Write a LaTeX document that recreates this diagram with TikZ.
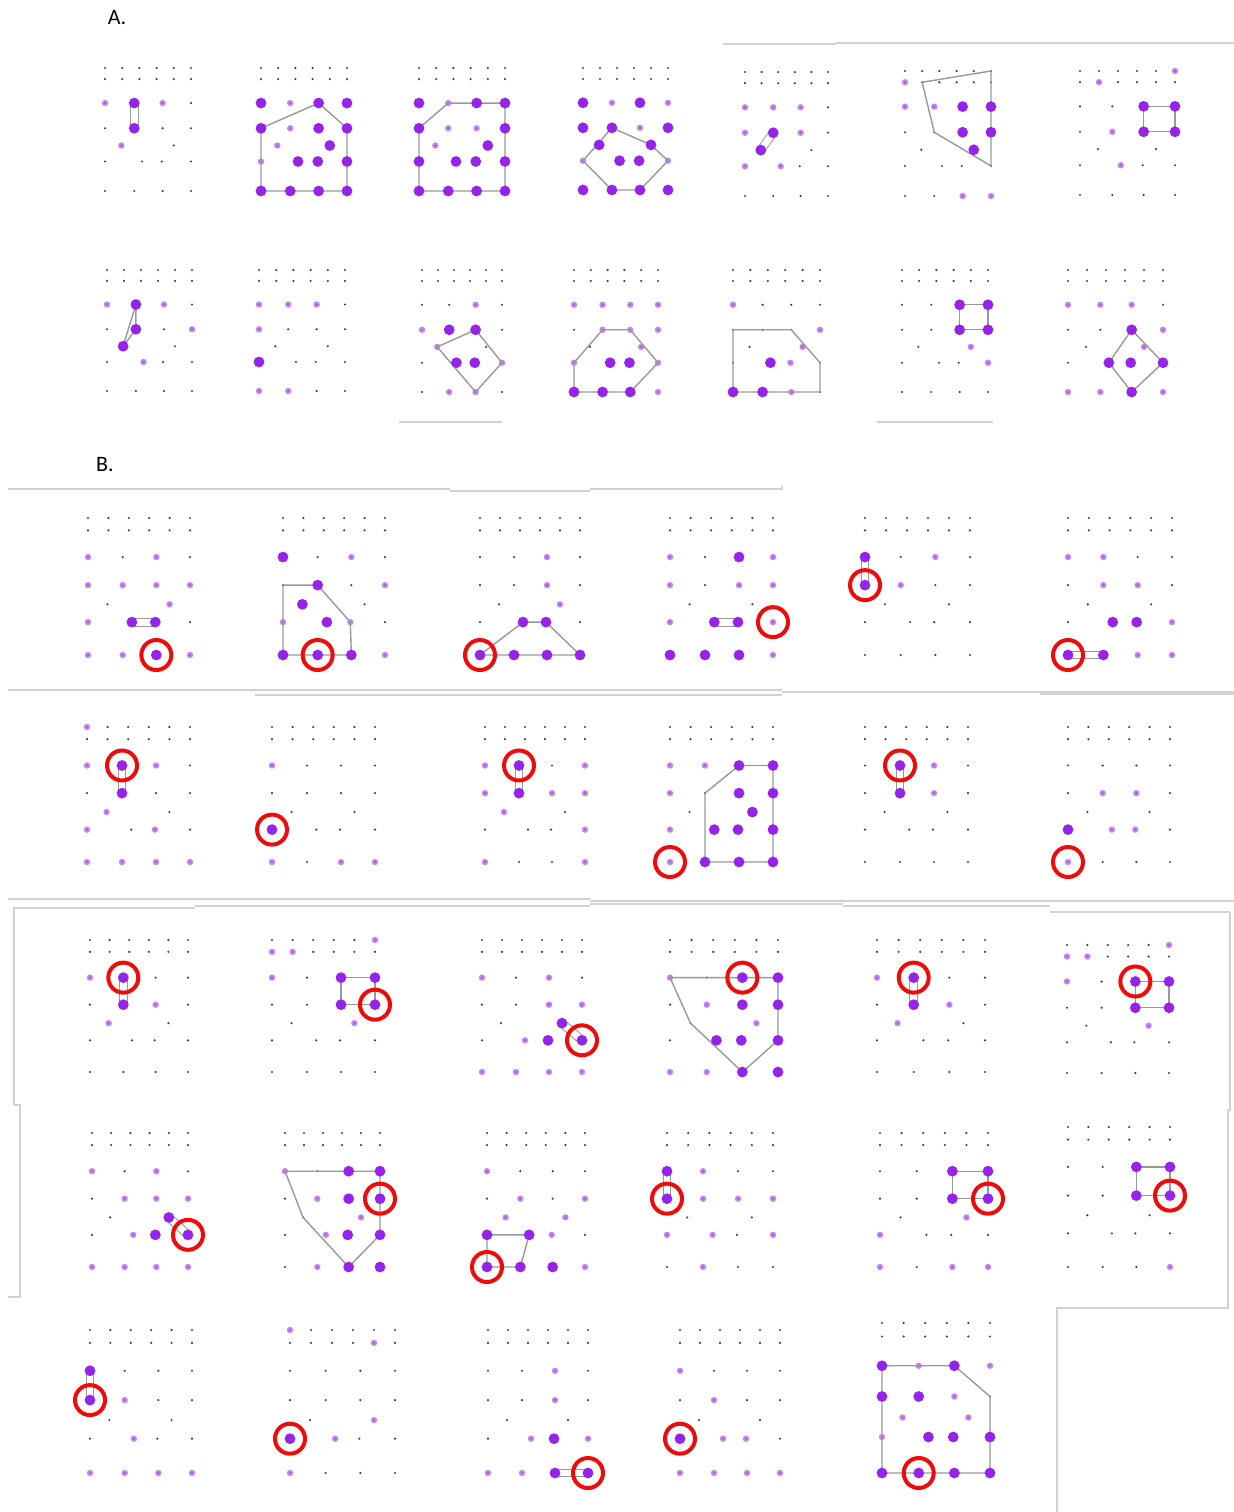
\documentclass[tikz,border=0pt]{standalone}
\usepackage{fontspec}
\setmainfont{Carlito}
\usepackage{tikz}
\usetikzlibrary{
  calc,
  positioning
}
\definecolor{dotpurple}{RGB}{150,35,235}
\definecolor{ringred}{RGB}{240,10,10}

% one panel: x, y, width, height, big dots, faint dots, outline path, ringed dot
\newcommand{\panel}[8]{%
  \begin{scope}[shift={(#1,#2)}, xscale=#3, yscale=#4]
    \foreach \n/\u in {1/0,2/0.2,3/0.4,4/0.6,5/0.8,6/1} {
      \coordinate (t\n) at (\u,0);
      \coordinate (s\n) at (\u,0.09);
    }
    \foreach \n/\u/\v in {a1/0/0.285,a2/0.34/0.285,a3/0.67/0.285,a4/1/0.285,
                          b1/0/0.49,b2/0.34/0.49,b3/0.67/0.49,b4/1/0.49,
                          m1/0.19/0.63,m2/0.80/0.63,
                          c1/0/0.76,c2/0.43/0.76,c3/0.66/0.76,c4/1/0.76,
                          d1/0/1,d2/0.34/1,d3/0.67/1,d4/1/1}
      \coordinate (\n) at (\u,\v);
  \end{scope}
  \foreach \n in {t1,t2,t3,t4,t5,t6,s1,s2,s3,s4,s5,s6,a1,a2,a3,a4,b1,b2,b3,b4,
                  m1,m2,c1,c2,c3,c4,d1,d2,d3,d4}
    \fill[griddot] (\n) circle (0.6pt);
  \foreach \n in {#6} \fill[faintdot] (\n) circle (1.6pt);
  \draw#7;
  \foreach \n in {#5} \fill[bigdot] (\n) circle (2.7pt);
  \if\relax\detokenize{#8}\relax\else\draw[ring] (#8) circle (7.5pt);\fi
}

\begin{document}
\begin{tikzpicture}[x=0.5pt, y=-0.5pt]
  \tikzset{
    griddot/.style={fill=black!75},
    faintdot/.style={fill=dotpurple!70, opacity=0.8},
    bigdot/.style={fill=dotpurple},
    hull/.style={draw=gray!80, line width=0.7pt, line join=round},
    capsule/.style={draw=gray!80, line width=0.5pt, double=white, double distance=3.4pt},
    ring/.style={draw=ringred, line width=2pt},
    frameline/.style={draw=gray!35, line width=0.6pt},
    lbl/.style={font=\fontsize{11}{13}\selectfont, inner sep=0pt}
  }
  \useasboundingbox (0,0) rectangle (1234,1512);

  % cut edges of the pasted images
  \draw[frameline] (723,44) -- (836,44) (836,43) -- (1234,43);
  \draw[frameline] (399,422) -- (502,422) (877,422) -- (993,422);
  \draw[frameline] (8,489) -- (450,489) (450,491) -- (590,491) (590,489) -- (782,489) -- (782,486);
  \draw[frameline] (8,690) -- (782,690) (782,692) -- (1234,692)
                   (255,695) -- (782,695) (1040,694) -- (1234,694);
  \draw[frameline] (8,899) -- (590,899) (590,901) -- (1234,901);
  \draw[frameline] (14,1105) -- (14,908) -- (195,908) (195,906) -- (590,906)
                   (590,904) -- (843,904) (843,906) -- (1050,906) (1050,912) -- (1230,912);
  \draw[frameline] (14,1105) -- (20,1105) -- (20,1297) -- (8,1297);
  \draw[frameline] (1230,912) -- (1230,1110) -- (1228,1110) -- (1228,1308) -- (1057,1308) -- (1057,1512);

  \node[lbl] (labA) at (117,18) {A.};
  \node[lbl] (labB) at (105,465) {B.};

  % A, first row
  \panel{105}{68}{86}{123}{a2,b2}{a1,a3,m1}{[capsule] (a2) -- (b2)}{}
  \panel{261}{68}{86}{123}{a1,a3,a4,b1,b3,b4,m2,c2,c3,c4,d1,d2,d3,d4}{a2,b2,m1,c1}
        {[hull] (b1) -- (a3) -- (b4) -- (d4) -- (d1) -- cycle}{}
  \panel{419}{68}{86}{123}{a1,a3,a4,b1,b4,m2,c1,c2,c3,c4,d1,d2,d3,d4}{a2,b2,b3,m1}
        {[hull] (b1) -- (a2) -- (a4) -- (d4) -- (d1) -- cycle}{}
  \panel{583}{68}{85}{122}{a1,a3,b1,b2,b4,m1,m2,c2,c3,d1,d2,d3,d4}{a2,a4,b3,c1,c4}
        {[hull] (c1) -- (b2) -- (m2) -- (c4) -- (d3) -- (d2) -- cycle}{}
  \panel{745}{72}{83}{124}{b2,m1}{a1,a2,a3,b1,b3,c1,c2}{[capsule] (b2) -- (m1)}{}
  \panel{905}{71}{86}{125}{a3,a4,b3,b4,m2}{s1,a1,a2,d3,d4}
        {[hull] (s2) -- (t6) -- (c4) -- (b2) -- cycle}{}
  \panel{1080}{71}{95}{124}{a3,a4,b3,b4}{t6,s2,b2,c2}
        {[hull] (a3) -- (a4) -- (b4) -- (b3) -- cycle}{}

  % A, second row
  \panel{107}{270}{85}{121}{a2,b2,m1}{a1,a3,b4,c2}{[hull] (a2) -- (b2) -- (m1) -- cycle}{}
  \panel{259}{270}{86}{121}{c1}{a1,a2,a3,b1,d1,d2}{}{}
  \panel{422}{270}{80}{122}{b2,b3,c2,c3}{b1,a3,m1,c4,d2,d3}
        {[hull] (b3) -- (c4) -- (d3) -- (m1) -- cycle}{}
  \panel{574}{270}{84}{122}{c2,c3,d1,d2,d3}{a1,a2,a3,a4,b2,b3,b4,m2,c1,c4,d4}
        {[hull] (b2) -- (b3) -- (c4) -- (d3) -- (d1) -- (c1) -- cycle}{}
  \panel{733}{270}{87}{122}{c2,d1,d2}{a1,b4,m2,c3,d3}
        {[hull] (b1) -- (b3) -- (c4) -- (d4) -- (d1) -- cycle}{}
  \panel{902}{270}{86}{122}{a3,a4,b3,b4}{m2,c4}
        {[hull] (a3) -- (a4) -- (b4) -- (b3) -- cycle}{}
  \panel{1068}{270}{95}{122}{b3,c2,c3,c4,d3}{a1,a2,a3,b4,m2,d1,d2,d4}
        {[hull] (b3) -- (c4) -- (d3) -- (c2) -- cycle}{}

  % B, first row
  \panel{88}{518}{102}{137}{c2,c3,d3}{a1,a3,b1,b2,b3,b4,m2,c1,d1,d2,d4}{[capsule] (c2) -- (c3)}{d3}
  \panel{283}{518}{102}{137}{a1,b2,m1,c2,d1,d2,d3}{a3,b4,c1,c3,d4}
        {[hull] (b1) -- (b2) -- (c3) -- (d3) -- (d1) -- cycle}{d2}
  \panel{480}{518}{100}{137}{c2,c3,d1,d2,d3,d4}{a3,b3,m2}
        {[hull] (d1) -- (c2) -- (c3) -- (d4) -- cycle}{d1}
  \panel{670}{518}{103}{137}{a3,c2,c3,d1,d2,d3}{a1,a4,b1,b3,b4,c1,d4,c4}{[capsule] (c2) -- (c3)}{c4}
  \panel{865}{518}{105}{137}{a1,b1}{a3,b2}{[capsule] (a1) -- (b1)}{b1}
  \panel{1068}{518}{104}{137}{c2,c3,d1,d2}{a1,a2,b2,b3,c4,d3,d4}{[capsule] (d1) -- (d2)}{d1}

  % B, second row
  \panel{87}{727}{103}{135}{a2,b2}{t1,a1,a3,m1,c1,c3,d1,d2,d3,d4}{[capsule] (a2) -- (b2)}{a2}
  \panel{272}{727}{103}{135}{c1}{a1,d1,d3,d4}{}{c1}
  \panel{485}{727}{100}{135}{a2,b2}{a1,a4,b1,b3,b4,m1,c4,d1,d4}{[capsule] (a2) -- (b2)}{a2}
  \panel{670}{727}{103}{135}{a3,a4,b3,b4,m2,c2,c3,c4,d2,d3,d4}{a1,a2,b1,c1,d1}
        {[hull] (b2) -- (a3) -- (a4) -- (d4) -- (d2) -- cycle}{d1}
  \panel{865}{727}{103}{135}{a2,b2}{a3,b3}{[capsule] (a2) -- (b2)}{a2}
  \panel{1068}{727}{102}{135}{c1}{b2,b3,c2,c3,d1}{}{d1}

  % B, third row
  \panel{90}{940}{98}{132}{a2,b2}{a1,b3,m1}{[capsule] (a2) -- (b2)}{a2}
  \panel{272}{940}{103}{132}{a3,a4,b3,b4}{s1,s2,t6,a1,m2}
        {[hull] (a3) -- (a4) -- (b4) -- (b3) -- cycle}{b4}
  \panel{482}{940}{100}{132}{m2,c3,c4}{a1,a3,b3,b4,c2,d1,d2,d3,d4}{[capsule] (m2) -- (c4)}{c4}
  \panel{670}{940}{108}{132}{a3,a4,b3,b4,c2,c3,c4,d3,d4}{a1,b2,m2,d1,d2}
        {[hull] (a1) -- (a3) -- (a4) -- (c4) -- (d3) -- (m1) -- cycle}{a3}
  \panel{877}{940}{108}{132}{a2,b2}{a1,b3,m1}{[capsule] (a2) -- (b2)}{a2}
  \panel{1067}{945}{102}{128}{a3,a4,b3,b4}{s1,s2,t6,a1,m2}
        {[hull] (a3) -- (a4) -- (b4) -- (b3) -- cycle}{a3}

  % B, fourth row
  \panel{92}{1133}{96}{134}{m2,c3,c4}{a1,a3,b2,b3,b4,c2,d1,d2,d3,d4}{[capsule] (m2) -- (c4)}{c4}
  \panel{285}{1133}{95}{134}{a3,a4,b3,b4,c3,c4,d3,d4}{a1,b2,m2,c2,d2}
        {[hull] (a1) -- (a3) -- (a4) -- (c4) -- (d3) -- (m1) -- cycle}{b4}
  \panel{487}{1133}{98}{134}{c1,c2,d1,d2,d3}{a1,b2,b4,m1,m2,c3,d4}
        {[hull] (c1) -- (c2) -- (d2) -- (d1) -- cycle}{d1}
  \panel{667}{1133}{106}{134}{a1,b1}{a2,b2,b3,b4,c1,c2,c4,d2}{[capsule] (a1) -- (b1)}{b1}
  \panel{880}{1133}{108}{134}{a3,a4,b3,b4}{c1,m2,d1,d3,d4}
        {[hull] (a3) -- (a4) -- (b4) -- (b3) -- cycle}{b4}
  \panel{1068}{1127}{102}{140}{a3,a4,b3,b4}{d4}
        {[hull] (a3) -- (a4) -- (b4) -- (b3) -- cycle}{b4}

  % B, fifth row
  \panel{90}{1330}{102}{143}{a1,b1}{b2,c2,d1,d2,d3,d4}{[capsule] (a1) -- (b1)}{b1}
  \panel{290}{1330}{105}{143}{c1}{t1,s5,m2,c2,d1}{}{c1}
  \panel{488}{1330}{100}{143}{c3,d3,d4}{a3,b3,c2,c4,d1,d2}{[capsule] (d3) -- (d4)}{d4}
  \panel{680}{1330}{100}{143}{c1}{a1,b2,c2,c3,d1,d2,d3,d4}{}{c1}
  \panel{882}{1323}{108}{150}{a1,a3,b1,b2,c2,c3,c4,d1,d2,d3,d4}{a2,a4,b3,m1,m2,c1}
        {[hull] (a1) -- (a3) -- (b4) -- (d4) -- (d3) -- (d1) -- cycle}{d2}
\end{tikzpicture}
\end{document}
